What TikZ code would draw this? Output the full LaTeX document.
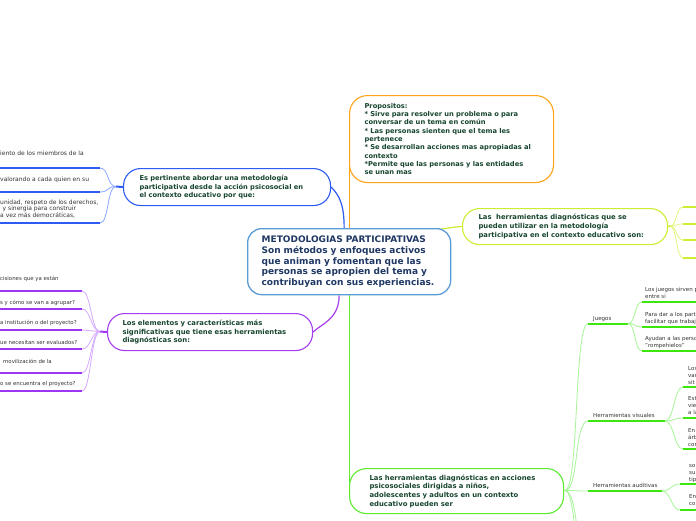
\documentclass[tikz,border=0pt]{standalone}
\usepackage{fontspec}
\setmainfont{DejaVu Sans}
\usetikzlibrary{backgrounds}
\newcommand{\oneline}[1]{\mbox{#1}}
\definecolor{navy}{HTML}{1F3864}
\definecolor{dkgreen}{HTML}{17462F}
\definecolor{cblue}{HTML}{5B9BD5}
\definecolor{bblue}{HTML}{2E5CF2}
\definecolor{lblue}{HTML}{86A6FF}
\definecolor{borange}{HTML}{FFA31A}
\definecolor{bpurple}{HTML}{A53FEE}
\definecolor{dpurple}{HTML}{9D35F5}
\definecolor{lpurple}{HTML}{D3A8FF}
\definecolor{blime}{HTML}{CCEE33}
\definecolor{llime}{HTML}{E2F57A}
\definecolor{bgreen}{HTML}{5CEB2E}
\definecolor{dgreen}{HTML}{3DE60F}
\definecolor{lgreen}{HTML}{A6F596}
\definecolor{leafgray}{HTML}{333333}
\begin{document}
\begin{tikzpicture}[x=1pt,y=-1pt,
  central/.style={draw=cblue, line width=1.3pt, fill=white, rounded corners=14pt, align=left,
    inner ysep=0pt, inner xsep=14pt, text width=175pt, minimum height=66pt,
    font=\fontsize{9.0}{10.9}\selectfont\bfseries, text=navy, anchor=north west},
  branch/.style={draw=#1, line width=1.1pt, fill=white, rounded corners=17pt, align=left,
    inner ysep=0pt, font=\fontsize{6.85}{8.7}\selectfont\bfseries, text=dkgreen, anchor=north west},
  leafb/.style={font=\fontsize{6.0}{7}\selectfont, text=leafgray, inner sep=0pt, anchor=base west},
  leafp/.style={font=\fontsize{5.4}{6.5}\selectfont, text=leafgray, inner sep=0pt, anchor=base west},
  leafg/.style={font=\fontsize{5.5}{6.6}\selectfont, text=leafgray, inner sep=0pt, anchor=base west},
  bthick/.style={draw=bblue, line width=2pt},
  bthin/.style={draw=lblue, line width=0.8pt},
  pthick/.style={draw=dpurple, line width=2pt},
  pthin/.style={draw=lpurple, line width=0.8pt},
  gthick/.style={draw=dgreen, line width=2pt},
  gthin/.style={draw=lgreen, line width=0.8pt},
  lthick/.style={draw=blime, line width=1.6pt},
  lthin/.style={draw=llime, line width=0.8pt},
]
\useasboundingbox (0,0) rectangle (696,520);

% ---------- main nodes ----------
\node[central] (c) at (247,228) {\oneline{METODOLOGIAS PARTICIPATIVAS}\\\oneline{Son métodos y enfoques activos}\\\oneline{que animan y fomentan que las}\\\oneline{personas se apropien del tema y}\\\oneline{contribuyan con sus experiencias.}};

\node[branch=borange, inner xsep=15pt, text width=174pt, minimum height=87pt, rounded corners=18pt,
  font=\fontsize{6.7}{8.35}\selectfont\bfseries] (on) at (349,95)
 {\oneline{Propositos:}\\\oneline{* Sirve para resolver un problema o para}\\\oneline{conversar de un tema en común}\\\oneline{* Las personas sienten que el tema les}\\\oneline{pertenece}\\\oneline{* Se desarrollan acciones mas apropiadas al}\\\oneline{contexto}\\\oneline{*Permite que las personas y las entidades}\\\oneline{se unan mas}};

\node[branch=bblue, inner xsep=16pt, text width=175pt, minimum height=37pt,
  font=\fontsize{6.7}{8.7}\selectfont\bfseries] (bn) at (123,168)
 {\oneline{Es pertinente abordar una metodología}\\\oneline{participativa desde la acción psicosocial en}\\\oneline{el contexto educativo por que:}};

\node[branch=blime, inner xsep=16pt, text width=173pt, minimum height=36pt] (ln) at (462,208)
 {\oneline{Las\ \ herramientas diagnósticas que se}\\\oneline{pueden utilizar en la metodología}\\\oneline{participativa en el contexto educativo son:}};

\node[branch=bpurple, inner xsep=15pt, text width=175pt, minimum height=37pt] (pn) at (107,313)
 {\oneline{Los elementos y características más}\\\oneline{significativas que tiene esas herramientas}\\\oneline{diagnósticas son:}};

\node[branch=bgreen, inner xsep=20pt, text width=174pt, minimum height=45pt] (gn) at (349,468)
 {\oneline{Las herramientas diagnósticas en acciones}\\\oneline{psicosociales dirigidas a niños,}\\\oneline{adolescentes y adultos en un contexto}\\\oneline{educativo pueden ser}};

% ---------- leaf texts: blue ----------
\node[leafb] (bt1) at (0,155) {iento de los miembros de la};
\node[leafb] (bt2) at (0,181) {valorando a cada quien en su};
\node[leafb] (bt3) at (0,204) {unidad, respeto de los derechos,};
\node[leafb] (bt4) at (2.5,210.5) {y sinergia para construir};
\node[leafb] (bt5) at (0,217) {a vez más democráticas,};

% ---------- leaf texts: purple ----------
\node[leafp] (pt1) at (0,280) {cisiones que ya están};
\node[leafp] (pt2) at (0,304) {s y cómo se van a agrupar?};
\node[leafp] (pt3) at (0,324.5) {a institución o del proyecto?};
\node[leafp] (pt4) at (0,344) {ue necesitan ser evaluados?};
\node[leafp] (pt5) at (3,363) {movilización de la};
\node[leafp] (pt6) at (0,385.5) {o se encuentra el proyecto?};

% ---------- green sub-branch labels ----------
\node[leafg] (g1) at (593,320) {Juegos};
\node[leafg] (g2) at (593,417) {Herramientas visuales};
\node[leafg] (g3) at (593,487) {Herramientas auditivas};

% ---------- green leaf texts ----------
\node[leafg] (gt1) at (645,291) {Los juegos sirven p};
\node[leafg] (gt2) at (645,298) {entre si};
\node[leafg] (gt3) at (645,316) {Para dar a los part};
\node[leafg] (gt4) at (645,323) {facilitar que trabaj};
\node[leafg] (gt5) at (645,340) {Ayudan a las perso};
\node[leafg] (gt6) at (645,347) {"rompehielos"};

\node[leafg] (vt1) at (688,370) {Los};
\node[leafg] (vt2) at (688,377) {var};
\node[leafg] (vt3) at (688,384) {sit};
\node[leafg] (vt4) at (688,400) {Est};
\node[leafg] (vt5) at (688,407) {vie};
\node[leafg] (vt6) at (688,414) {a la};
\node[leafg] (vt7) at (688,432) {En};
\node[leafg] (vt8) at (688,439) {árb};
\node[leafg] (vt9) at (688,446) {cor};

\node[leafg] (at1) at (689,467) {so};
\node[leafg] (at2) at (689,474) {su};
\node[leafg] (at3) at (689,481) {tip};
\node[leafg] (at4) at (689,498) {En};
\node[leafg] (at5) at (689,505) {co};

% ---------- coordinates ----------
\coordinate (bj) at (116,186.5);
\coordinate (b1e) at (100,168); \coordinate (b1s) at (-5,168);
\coordinate (b2e) at (100,192); \coordinate (b2s) at (-5,192);
\coordinate (b3e) at (100,223); \coordinate (b3s) at (-5,223);

\coordinate (pj) at (100,331.5);
\coordinate (p1e) at (82,291); \coordinate (p1s) at (-5,291);
\coordinate (p2e) at (82,309); \coordinate (p2s) at (-5,309);
\coordinate (p3e) at (82,330); \coordinate (p3s) at (-5,330);
\coordinate (p4e) at (82,349); \coordinate (p4s) at (-5,349);
\coordinate (p5e) at (82,373); \coordinate (p5s) at (-5,373);
\coordinate (p6e) at (82,391); \coordinate (p6s) at (-5,391);

\coordinate (lj) at (670,226);
\coordinate (l1s) at (683,207); \coordinate (l1e) at (700,207);
\coordinate (l2s) at (683,224); \coordinate (l2e) at (700,224);
\coordinate (l3s) at (683,240); \coordinate (l3e) at (700,240);
\coordinate (l4s) at (683,258); \coordinate (l4e) at (700,258);

\coordinate (gj) at (565,490.5);
\coordinate (j1s) at (588,323.5); \coordinate (j1e) at (628,323.5);
\coordinate (v1s) at (588,421); \coordinate (v1e) at (665,421);
\coordinate (a1s) at (588,491); \coordinate (a1e) at (662,491);
\coordinate (d1s) at (590,570);
\coordinate (d2s) at (590,630);

\coordinate (jl1s) at (642,302); \coordinate (jl1e) at (700,302);
\coordinate (jl2s) at (642,327); \coordinate (jl2e) at (700,327);
\coordinate (jl3s) at (642,351); \coordinate (jl3e) at (700,351);

\coordinate (vl1s) at (683,387); \coordinate (vl1e) at (700,387);
\coordinate (vl2s) at (683,418); \coordinate (vl2e) at (700,418);
\coordinate (vl3s) at (683,449); \coordinate (vl3e) at (700,449);

\coordinate (al1s) at (680,484); \coordinate (al1e) at (700,484);
\coordinate (al2s) at (680,510); \coordinate (al2e) at (700,510);

% ---------- connectors ----------
\begin{scope}[on background layer]
  % central to branches
  \draw[draw=borange, line width=1.3pt] (c.north) -- (c.north |- on.west);
  \draw[draw=bblue, line width=1.2pt] ([xshift=-5pt]c.north) .. controls +(0,-24) and +(8,8) .. (bn.east);
  \draw[draw=bpurple, line width=1.2pt] ([xshift=-10pt]c.south) .. controls +(0,24) and +(8,-8) .. (pn.east);
  \draw[draw=bgreen, line width=1.3pt] (c.south) -- (c.south |- gn.west);
  \draw[draw=blime, line width=1.2pt] ([xshift=-10pt,yshift=-1pt]c.north east) .. controls +(8,-1) and +(-6,0) .. (ln.west);

  % blue leaves
  \draw[bthick] (bn.west) -- (bj);
  \draw[bthin] (bj) .. controls +(-9,0) and +(9,0) .. (b1e);
  \draw[bthin] (bj) .. controls +(-9,0) and +(9,0) .. (b2e);
  \draw[bthin] (bj) .. controls +(-9,0) and +(9,0) .. (b3e);
  \draw[bthick] (b1s) -- (b1e);
  \draw[bthick] (b2s) -- (b2e);
  \draw[bthick] (b3s) -- (b3e);

  % purple leaves
  \draw[pthick] (pn.west) -- (pj);
  \foreach \i in {1,...,6} {
    \draw[pthin] (pj) .. controls +(-9,0) and +(9,0) .. (p\i e);
    \draw[pthick] (p\i s) -- (p\i e);
  }

  % lime leaves
  \draw[lthick] (ln.east) -- (lj);
  \foreach \i in {1,...,4} {
    \draw[lthin] (lj) .. controls +(7,0) and +(-7,0) .. (l\i s);
    \draw[lthick] (l\i s) -- (l\i e);
  }

  % green sub-branches
  \draw[gthin] (gn.east) -- (gj);
  \draw[gthin] (gj) .. controls +(14,0) and +(-14,0) .. (j1s);
  \draw[gthin] (gj) .. controls +(14,0) and +(-14,0) .. (v1s);
  \draw[gthin] (gj) .. controls +(14,0) and +(-14,0) .. (a1s);
  \draw[gthin] (gj) .. controls +(14,0) and +(-14,0) .. (d1s);
  \draw[gthin] (gj) .. controls +(14,0) and +(-14,0) .. (d2s);
  \draw[gthick] (j1s) -- (j1e);
  \draw[gthick] (v1s) -- (v1e);
  \draw[gthick] (a1s) -- (a1e);

  \foreach \i in {1,2,3} {
    \draw[gthin] (j1e) .. controls +(8,0) and +(-8,0) .. (jl\i s);
    \draw[gthick] (jl\i s) -- (jl\i e);
    \draw[gthin] (v1e) .. controls +(9,0) and +(-9,0) .. (vl\i s);
    \draw[gthick] (vl\i s) -- (vl\i e);
  }
  \foreach \i in {1,2} {
    \draw[gthin] (a1e) .. controls +(9,0) and +(-9,0) .. (al\i s);
    \draw[gthick] (al\i s) -- (al\i e);
  }
\end{scope}
\end{tikzpicture}
\end{document}
